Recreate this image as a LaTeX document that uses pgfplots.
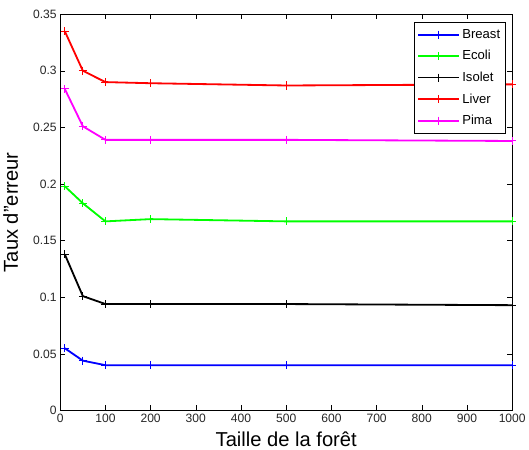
\documentclass[border=0pt]{standalone}
\usepackage{pgfplots}
\pgfplotsset{compat=1.18}
\usepackage{fontspec}
\setmainfont{Liberation Sans}
\definecolor{mblue}{RGB}{0,0,255}
\definecolor{mgreen}{RGB}{0,255,0}
\definecolor{mred}{RGB}{255,0,0}
\definecolor{mmag}{RGB}{255,0,255}
\begin{document}
\begin{tikzpicture}
\begin{axis}[
    scale only axis,
    width=447bp, height=392bp,
    xmin=0, xmax=1000, ymin=0, ymax=0.35,
    xtick={0,100,...,1000},
    ytick={0,0.05,...,0.35},
    yticklabels={0,0.05,0.1,0.15,0.2,0.25,0.3,0.35},
    xticklabel style={/pgf/number format/1000 sep={}},
    tick align=inside,
    tick pos=both,
    major tick length=5bp,
    tick style={black, line width=0.5pt},
    axis line style={line width=0.6pt},
    ticklabel style={font=\fontsize{12}{12}\selectfont, color=black!85},
    /pgf/number format/assume math mode=true,
    scaled y ticks=false,
    xlabel={Taille de la forêt},
    ylabel={Taux d"erreur},
    label style={font=\fontsize{20}{20}\selectfont},
    xlabel style={yshift=-2bp},
    ylabel style={yshift=8bp},
    legend style={at={(0.985,0.98)}, anchor=north east, draw=black,
        font=\fontsize{13}{14}\selectfont, row sep=6.5bp,
        inner xsep=3bp, inner ysep=5bp},
    legend cell align=left,
    legend image code/.code={\draw[mark repeat=2,mark phase=2]
        plot coordinates {(0cm,0cm) (0.72cm,0cm) (1.44cm,0cm)};},
    legend image post style={line width=1.8pt},
    every axis plot/.append style={line width=1.8pt, mark=+, mark size=4bp,
        mark options={line width=1pt}},
]
\addplot[color=mblue] coordinates {(10,0.055) (50,0.044) (100,0.040) (200,0.040) (500,0.040) (1000,0.040)};
\addplot[color=mgreen] coordinates {(10,0.198) (50,0.183) (100,0.167) (200,0.169) (500,0.167) (1000,0.167)};
\addplot[color=black] coordinates {(10,0.138) (50,0.101) (100,0.094) (200,0.094) (500,0.094) (1000,0.093)};
\addplot[color=mred] coordinates {(10,0.335) (50,0.300) (100,0.290) (200,0.289) (500,0.287) (1000,0.288)};
\addplot[color=mmag] coordinates {(10,0.284) (50,0.251) (100,0.239) (200,0.239) (500,0.239) (1000,0.238)};
\legend{Breast,Ecoli,Isolet,Liver,Pima}
\end{axis}
\path (current axis.north) ++(0,14bp);
\end{tikzpicture}
\end{document}
